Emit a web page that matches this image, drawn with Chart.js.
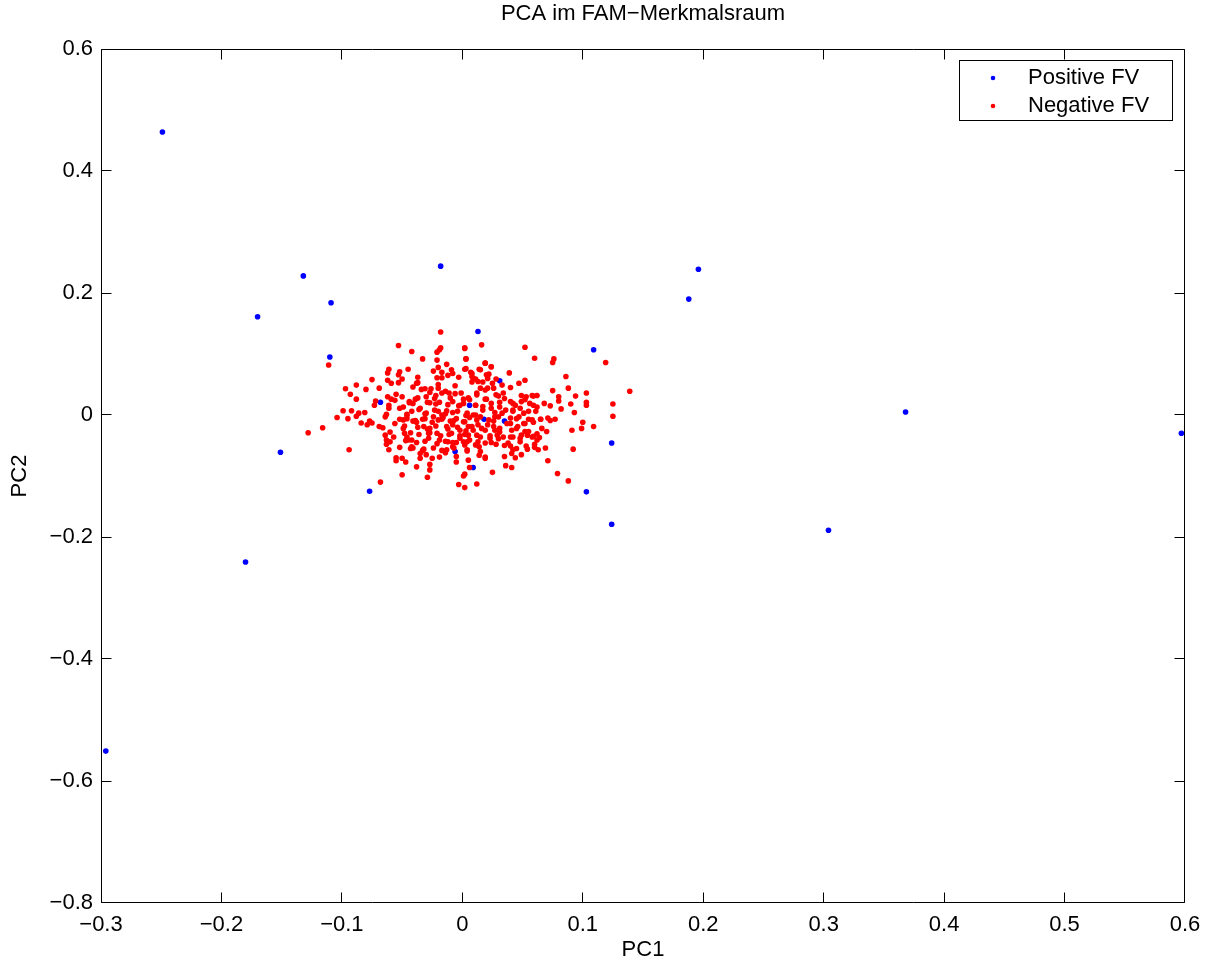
<!DOCTYPE html>
<html>
<head>
<meta charset="utf-8">
<title>PCA im FAM−Merkmalsraum</title>
<script src="https://cdn.jsdelivr.net/npm/chart.js@4"></script>
<style>
  html, body { margin: 0; padding: 0; background: #fff; }
  canvas { display: block; }
</style>
</head>
<body>
<canvas id="pca" width="1207" height="965"></canvas>
<script>
// ---- Daten ----
const titel = "PCA im FAM−Merkmalsraum";
const seriesNames = ["Positive FV", "Negative FV"];

const xTicks = [-0.3, -0.2, -0.1, 0, 0.1, 0.2, 0.3, 0.4, 0.5, 0.6];
const xTickLabels = ["−0.3", "−0.2", "−0.1", "0", "0.1", "0.2", "0.3", "0.4", "0.5", "0.6"];
const yTicks = [-0.8, -0.6, -0.4, -0.2, 0, 0.2, 0.4, 0.6];
const yTickLabels = ["−0.8", "−0.6", "−0.4", "−0.2", "0", "0.2", "0.4", "0.6"];

const posX = [-0.249, -0.132, -0.018, -0.170, -0.109, -0.110, 0.196, 0.188, 0.013, 0.109,
  0.031, -0.068, 0.006, 0.368, 0.597, -0.151, -0.006, 0.009, 0.018, 0.035,
  0.124, 0.103, -0.077, 0.124, 0.304, -0.180, -0.296];
const posY = [0.464, 0.228, 0.244, 0.161, 0.184, 0.095, 0.239, 0.190, 0.137, 0.107,
  0.056, 0.021, 0.016, 0.005, -0.030, -0.061, -0.060, -0.086, -0.007, -0.010,
  -0.046, -0.126, -0.125, -0.179, -0.189, -0.241, -0.551];

const negX = [
  // links oben
  -0.053, -0.111, -0.061, -0.062, -0.052, -0.053, -0.045, -0.062, -0.050, -0.075,
  -0.059, -0.053, -0.088, -0.069, -0.097, -0.080, -0.093, -0.055, -0.050, -0.062,
  -0.059, -0.088, -0.072, -0.073, -0.061, -0.056, -0.044, -0.061, -0.052, -0.099,
  -0.092, -0.086, -0.081, -0.046, -0.063,
  // links unten
  -0.104, -0.095, -0.088, -0.084, -0.077, -0.075, -0.079, -0.128, -0.116, -0.069,
  -0.066, -0.064, -0.056, -0.052, -0.049, -0.046, -0.060, -0.064, -0.057, -0.063,
  -0.060, -0.063, -0.049, -0.048, -0.046, -0.045, -0.052, -0.061, -0.094, -0.043,
  -0.055, -0.055, -0.050, -0.047, -0.050, -0.068,
  // mitte oben
  -0.018, 0.016, 0.052, -0.042, -0.018, -0.019, -0.021, 0.002, -0.033, -0.021,
  0.003, 0.019, -0.013, 0.024, -0.020, 0.003, 0.014, -0.009, -0.024, -0.017,
  -0.008, 0.007, 0.022, 0.039, -0.012, -0.003, 0.008, 0.011, 0.021, 0.052,
  -0.037, -0.021, -0.017, 0.008, 0.017, 0.025, 0.047, -0.020, -0.020, -0.034,
  -0.041, -0.038, 0.021, 0.040, -0.026, -0.006, -0.017, -0.011, -0.001, 0.012,
  0.028, 0.049, -0.037, -0.030, -0.023, 0.005, 0.019, 0.035, -0.041, -0.027,
  -0.019, -0.008, -0.002, 0.011, 0.024, 0.031, 0.042, 0.052, -0.035, -0.023,
  -0.013, -0.008, 0.017, 0.027, 0.036, 0.042, 0.048, 0.055, -0.030, -0.017,
  0.011,
  // rechts oben
  0.060, 0.076, 0.075, 0.119, 0.086, 0.088, 0.075, 0.139, 0.103, 0.058,
  0.062, 0.080, 0.094, 0.080, 0.068, 0.059, 0.073, 0.090, 0.103, 0.103,
  0.125, 0.082, 0.061, 0.093, 0.125,
  // rechts unten
  0.059, 0.065, 0.071, 0.073, 0.077, 0.100, 0.109, 0.066, 0.099, 0.091,
  0.070, 0.062, 0.059, 0.064, 0.060, 0.060, 0.063, 0.069, 0.092, 0.071,
  0.079, 0.088,
  // mitte unten
  -0.041, -0.038, -0.031, -0.024, -0.020, -0.016, -0.010, -0.005, 0.001, 0.006,
  0.012, 0.026, 0.030, 0.040, 0.045, 0.051, 0.055, -0.032, -0.027, -0.013,
  -0.008, -0.002, 0.005, 0.009, 0.016, 0.021, 0.027, 0.031, 0.045, 0.052,
  -0.028, -0.021, -0.009, 0.002, 0.012, 0.023, 0.040, 0.048, 0.054, -0.028,
  -0.042, -0.019, -0.014, -0.002, 0.001, 0.006, 0.013, 0.024, 0.030, 0.035,
  0.038, -0.042, -0.008, -0.008, 0.014, 0.045, 0.054, -0.032, -0.013, 0.004,
  -0.035, -0.030, -0.014, 0.041, 0.049, -0.035, -0.025, -0.019, -0.005, -0.005,
  0.014, 0.019, 0.005, 0.044, -0.027, -0.038, 0.006, 0.036, 0.041, -0.027,
  0.025, 0.002, 0.001, -0.029, -0.003, 0.002, 0.012,
  // dichter Kern rechts der Mitte
  0.002, 0.003, 0.002, 0.008, 0.015, 0.019, 0.024, 0.009, 0.013, 0.020,
  0.028, 0.015, 0.019, 0.026, 0.033, 0.034, 0.030, 0.020, 0.012, 0.006,
  0.001, 0.011, 0.017, 0.024, 0.031, 0.040, 0.044, 0.042, 0.049, 0.053,
  0.059, 0.056, 0.062, 0.051, 0.047, 0.040, 0.033, 0.027, 0.022, 0.015,
  0.009, 0.004, 0.002, 0.008, 0.013, 0.019, 0.026, 0.031, 0.037, 0.041,
  0.046, 0.052, 0.058, 0.065, 0.055, 0.049, 0.042, 0.034, 0.029, 0.023,
  0.015, 0.005, 0.004, 0.011, 0.019, 0.028, 0.040, 0.048, 0.058, 0.062,
  0.004, 0.015, 0.042, 0.053, 0.035, 0.019,
  // dichter Kern links der Mitte
  -0.037, -0.031, -0.027, -0.022, -0.014, -0.010, -0.006, 0.001, -0.003, -0.012,
  -0.022, -0.029, -0.039, -0.044, -0.049, -0.042, -0.036, -0.031, -0.020, -0.014,
  -0.004, 0.003, -0.007, -0.017, -0.025, -0.033, -0.039, -0.046, -0.048, -0.037,
  -0.029, -0.022, -0.012, -0.004, 0.003, -0.002, -0.011, -0.018, -0.027, -0.036,
  -0.043, -0.047, -0.038, -0.031, -0.021, -0.012, -0.005, 0.002, -0.007, -0.017,
  -0.024, -0.033, -0.041
];
const negY = [
  0.114, 0.082, 0.075, 0.069, 0.071, 0.066, 0.075, 0.057, 0.059, 0.058,
  0.052, 0.053, 0.049, 0.044, 0.043, 0.042, 0.034, 0.034, 0.030, 0.030,
  0.026, 0.026, 0.023, 0.016, 0.016, 0.024, 0.022, 0.011, 0.011, 0.007,
  0.007, 0.003, 0.004, 0.001, 0.001,
  -0.004, -0.006, -0.002, -0.013, -0.010, -0.013, -0.016, -0.029, -0.021, -0.019,
  -0.021, -0.003, -0.014, -0.007, -0.008, -0.001, -0.028, -0.033, -0.036, -0.041,
  -0.044, -0.048, -0.022, -0.030, -0.036, -0.041, -0.053, -0.057, -0.057, -0.055,
  -0.070, -0.075, -0.071, -0.077, -0.098, -0.110,
  0.136, 0.115, 0.111, 0.104, 0.110, 0.107, 0.103, 0.110, 0.092, 0.090,
  0.092, 0.085, 0.083, 0.079, 0.078, 0.076, 0.075, 0.074, 0.072, 0.070,
  0.068, 0.070, 0.067, 0.069, 0.065, 0.062, 0.063, 0.059, 0.060, 0.057,
  0.062, 0.061, 0.061, 0.054, 0.054, 0.052, 0.052, 0.050, 0.044, 0.042,
  0.046, 0.052, 0.044, 0.045, 0.043, 0.048, 0.036, 0.036, 0.036, 0.036,
  0.033, 0.032, 0.028, 0.030, 0.027, 0.028, 0.026, 0.027, 0.019, 0.020,
  0.021, 0.022, 0.016, 0.016, 0.019, 0.021, 0.019, 0.025, 0.011, 0.008,
  0.007, 0.004, 0.008, 0.004, 0.008, 0.006, 0.011, 0.006, 0.003, 0.000,
  0.000,
  0.093, 0.092, 0.086, 0.086, 0.063, 0.044, 0.040, 0.039, 0.036, 0.032,
  0.032, 0.030, 0.031, 0.023, 0.019, 0.016, 0.015, 0.018, 0.021, 0.016,
  0.018, 0.010, 0.006, 0.004, -0.002,
  -0.012, -0.007, -0.005, -0.009, -0.007, -0.012, -0.019, -0.022, -0.022, -0.025,
  -0.027, -0.031, -0.035, -0.037, -0.048, -0.053, -0.057, -0.054, -0.056, -0.075,
  -0.096, -0.108,
  -0.010, -0.012, -0.006, -0.003, -0.008, -0.004, -0.010, -0.006, -0.011, -0.004,
  -0.008, -0.010, -0.003, -0.014, -0.006, -0.014, -0.007, -0.019, -0.022, -0.019,
  -0.016, -0.025, -0.019, -0.025, -0.022, -0.016, -0.025, -0.028, -0.022, -0.027,
  -0.030, -0.030, -0.030, -0.032, -0.033, -0.034, -0.036, -0.038, -0.033, -0.038,
  -0.041, -0.041, -0.043, -0.038, -0.044, -0.041, -0.044, -0.045, -0.039, -0.050,
  -0.046, -0.052, -0.045, -0.052, -0.052, -0.055, -0.056, -0.056, -0.057, -0.059,
  -0.063, -0.065, -0.062, -0.063, -0.065, -0.071, -0.071, -0.069, -0.068, -0.077,
  -0.066, -0.071, -0.074, -0.070, -0.081, -0.085, -0.086, -0.083, -0.086, -0.090,
  -0.094, -0.097, -0.100, -0.102, -0.114, -0.119, -0.113,
  0.109, 0.092, 0.075, 0.068, 0.074, 0.085, 0.079, 0.060, 0.055, 0.066,
  0.059, 0.044, 0.041, 0.044, 0.049, 0.036, 0.031, 0.026, 0.033, 0.025,
  0.019, 0.016, 0.014, 0.011, 0.013, 0.022, 0.016, 0.008, 0.022, 0.030,
  0.031, 0.019, 0.013, 0.003, -0.003, -0.005, 0.003, -0.003, -0.008, -0.003,
  0.000, 0.003, -0.011, -0.019, -0.016, -0.025, -0.019, -0.022, -0.014, -0.025,
  -0.019, -0.014, -0.008, -0.007, -0.027, -0.033, -0.036, -0.036, -0.033, -0.038,
  -0.036, -0.033, -0.044, -0.049, -0.046, -0.048, -0.051, -0.044, -0.036, -0.041,
  -0.057, -0.060, -0.057, -0.051, -0.068, -0.069,
  0.053, 0.043, 0.037, 0.032, 0.039, 0.028, 0.035, 0.026, 0.015, 0.017,
  0.018, 0.021, 0.026, 0.020, 0.013, 0.006, 0.009, 0.002, 0.006, 0.002,
  0.006, -0.001, -0.009, -0.007, -0.012, -0.007, -0.009, -0.006, -0.018, -0.020,
  -0.023, -0.018, -0.023, -0.020, -0.026, -0.034, -0.032, -0.034, -0.029, -0.032,
  -0.029, -0.042, -0.045, -0.043, -0.047, -0.044, -0.045, -0.049, -0.054, -0.058,
  -0.054, -0.058, -0.054
];

const zip = (xs, ys) => xs.map((x, i) => ({ x: x, y: ys[i] }));

const schrift = "'Liberation Sans', Arial, Helvetica, sans-serif";
const SCHWARZ = "#000000";

// Rahmen + nach innen zeigende Ticks (Matlab-Stil)
const rahmenPlugin = {
  id: "rahmen",
  afterDatasetsDraw(chart) {
    const { ctx, chartArea: a, scales } = chart;
    const L = Math.round(a.left) + 0.5, R = Math.round(a.right) - 0.5;
    const T = Math.round(a.top) + 0.5, B = Math.round(a.bottom) - 0.5;
    const len = 10;
    const klemm = (v, lo, hi) => Math.min(Math.max(v, lo), hi);
    ctx.save();
    ctx.strokeStyle = SCHWARZ;
    ctx.lineWidth = 1;
    ctx.beginPath();
    ctx.rect(L, T, R - L, B - T);
    xTicks.forEach(v => {
      const px = klemm(Math.floor(scales.x.getPixelForValue(v)) + 0.5, L, R);
      ctx.moveTo(px, B); ctx.lineTo(px, B - len);
      ctx.moveTo(px, T); ctx.lineTo(px, T + len);
    });
    yTicks.forEach(v => {
      const py = klemm(Math.floor(scales.y.getPixelForValue(v)) + 0.5, T, B);
      ctx.moveTo(L, py); ctx.lineTo(L + len, py);
      ctx.moveTo(R, py); ctx.lineTo(R - len, py);
    });
    ctx.stroke();
    ctx.restore();
  }
};

// Legende als Kasten oben rechts
const legendePlugin = {
  id: "legende",
  afterDraw(chart) {
    const { ctx, chartArea: a } = chart;
    const w = 213, h = 60;
    const x0 = Math.round(a.right) - 13 - w + 0.5;
    const y0 = Math.round(a.top) + 11 + 0.5;
    ctx.save();
    ctx.fillStyle = "#fff";
    ctx.fillRect(x0, y0, w, h);
    ctx.strokeStyle = SCHWARZ;
    ctx.lineWidth = 1;
    ctx.strokeRect(x0, y0, w, h);
    ctx.font = "22px " + schrift;
    ctx.textBaseline = "middle";
    chart.data.datasets.forEach((ds, i) => {
      const cy = y0 + 17.5 + i * 28;
      ctx.fillStyle = ds.backgroundColor;
      ctx.beginPath();
      ctx.arc(x0 + 33.5, cy, 2.3, 0, Math.PI * 2);
      ctx.fill();
      ctx.fillStyle = SCHWARZ;
      ctx.textAlign = "left";
      ctx.fillText(ds.label, x0 + 68.5, cy);
    });
    ctx.restore();
  }
};

new Chart(document.getElementById("pca"), {
  type: "scatter",
  data: {
    datasets: [
      {
        label: seriesNames[0],
        data: zip(posX, posY),
        backgroundColor: "#0000ff",
        borderColor: "#0000ff",
        pointRadius: 2.8,
        pointBorderWidth: 0,
        order: 1
      },
      {
        label: seriesNames[1],
        data: zip(negX, negY),
        backgroundColor: "#ff0000",
        borderColor: "#ff0000",
        pointRadius: 2.8,
        pointBorderWidth: 0,
        order: 0
      }
    ]
  },
  options: {
    responsive: false,
    animation: false,
    layout: { padding: { left: 0, right: 22, top: 0, bottom: 0 } },
    plugins: {
      legend: { display: false },
      tooltip: { enabled: false },
      title: {
        display: true,
        fullSize: false,
        text: titel,
        color: SCHWARZ,
        font: { family: schrift, size: 22, weight: "normal" },
        padding: { top: 1, bottom: 21.6 }
      }
    },
    scales: {
      x: {
        type: "linear",
        min: -0.3,
        max: 0.6,
        grid: { display: false, drawTicks: false },
        border: { display: false },
        afterBuildTicks(scale) { scale.ticks = xTicks.map(v => ({ value: v })); },
        afterFit(scale) {
          scale.height = 62;
          scale.paddingLeft = 0;
          scale.paddingRight = 0;
        },
        ticks: {
          color: SCHWARZ,
          padding: 9,
          maxRotation: 0,
          autoSkip: false,
          font: { family: schrift, size: 22 },
          callback: (v, i) => xTickLabels[i]
        },
        title: {
          display: true,
          text: "PC1",
          color: SCHWARZ,
          font: { family: schrift, size: 22 },
          padding: { top: 0, bottom: 2 }
        }
      },
      y: {
        type: "linear",
        min: -0.8,
        max: 0.6,
        grid: { display: false, drawTicks: false },
        border: { display: false },
        afterBuildTicks(scale) { scale.ticks = yTicks.map(v => ({ value: v })); },
        afterFit(scale) { scale.width = 101; },
        ticks: {
          color: SCHWARZ,
          padding: 8,
          autoSkip: false,
          font: { family: schrift, size: 22 },
          callback: (v, i) => yTickLabels[i]
        },
        title: {
          display: true,
          text: "PC2",
          color: SCHWARZ,
          font: { family: schrift, size: 22 },
          padding: { top: 7, bottom: 0 }
        }
      }
    }
  },
  plugins: [rahmenPlugin, legendePlugin]
});
</script>
</body>
</html>
